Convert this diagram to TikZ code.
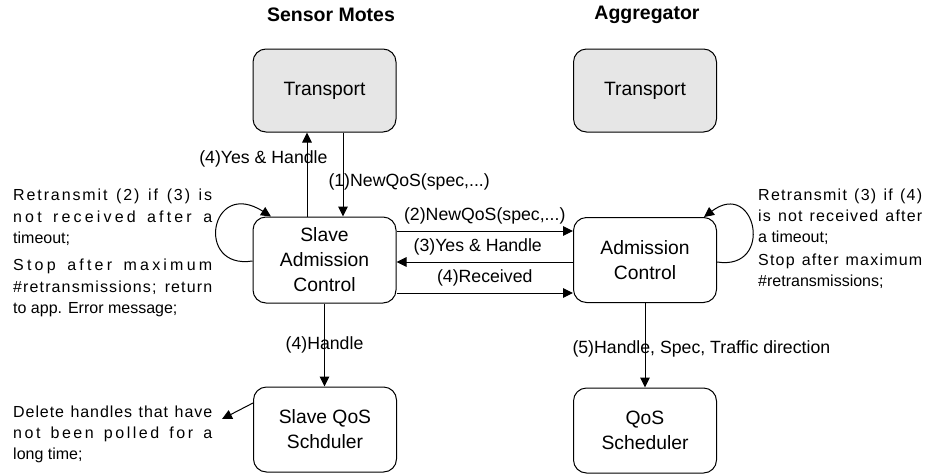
\documentclass[tikz,border=0pt]{standalone}
\usepackage{fontspec}
\setmainfont{Liberation Sans}
\usetikzlibrary{arrows.meta}
\definecolor{boxgrey}{RGB}{230,230,230}
\setlength{\parindent}{0pt}

% justified notes spread their letters as well as their word spaces
\newcount\lsclass
\lsclass=33
\loop
  \XeTeXcharclass\lsclass=7\relax
  \ifnum\lsclass<126 \advance\lsclass by 1 \repeat
\XeTeXinterchartoks 7 7 = {\nobreak\hskip 0pt plus 1pt\relax}
\newcommand{\spreadletters}{\XeTeXinterchartokenstate=1\relax}

\begin{document}
\begin{tikzpicture}[x=1pt,y=1pt,
  box/.style={draw, line width=1pt, rounded corners=13pt, minimum width=143pt,
    minimum height=85pt, inner sep=0pt, align=center,
    font=\fontsize{19.3}{25}\selectfont},
  greybox/.style={box, fill=boxgrey},
  arr/.style={line width=1pt, -{Triangle[length=10pt,width=9.5pt]}},
  lbl/.style={font=\fontsize{17.7}{21}\selectfont, inner sep=0pt},
  note/.style={font=\fontsize{16}{21.5}\selectfont, execute at begin node=\spreadletters,
    inner sep=0pt, align=justify, anchor=base west},
  heading/.style={font=\fontsize{19.5}{23}\selectfont\bfseries}
]
\useasboundingbox (0,0) rectangle (928,-474);

% column headings
\node[heading] (hsm) at (331,-15) {Sensor Motes};
\node[heading] (hag) at (647,-15) {Aggregator};

% components
\node[greybox, minimum height=83pt] (tl) at (324.5,-90.5) {Transport};
\node[greybox, minimum height=83pt] (tr) at (645,-90.5) {Transport};
\node[box, minimum height=86pt] (sac) at (324.5,-260) {Slave\\Admission\\Control};
\node[box] (ac) at (645,-260) {Admission\\Control};
\node[box] (sqs) at (325,-429.5) {Slave QoS\\Schduler};
\node[box] (qs) at (645,-430.5) {QoS\\Scheduler};

% transport <-> slave admission control
\draw[arr] ([xshift=-17.5pt]sac.north) -- ([xshift=-17.5pt]tl.south)
  node[lbl, pos=0.69, anchor=east, xshift=21pt] {(4)Yes \& Handle};
\draw[arr] ([xshift=18.5pt]tl.south) -- ([xshift=18.5pt]sac.north)
  node[lbl, pos=0.59, anchor=west, xshift=-15pt] {(1)NewQoS(spec,...)};

% slave admission control <-> admission control
\draw[arr] ([yshift=29pt]sac.east) -- ([yshift=29pt]ac.west)
  node[lbl, midway, above=6pt] {(2)NewQoS(spec,...)};
\draw[arr] ([yshift=-2pt]ac.west) -- ([yshift=-2pt]sac.east)
  node[lbl, midway, above=6pt, xshift=-7pt] {(3)Yes \& Handle};
\draw[arr] ([yshift=-33pt]sac.east) -- ([yshift=-33pt]ac.west)
  node[lbl, midway, above=6pt] {(4)Received};

% down to the schedulers
\draw[arr] (sac.south) -- (sac.south |- sqs.north)
  node[lbl, midway] {(4)Handle};
\draw[arr] (ac.south) -- (qs.north)
  node[lbl, midway, anchor=west, xshift=-73pt, yshift=-4pt] {(5)Handle, Spec, Traffic direction};

% retransmission loops
\draw[arr] ([yshift=-1pt]sac.west) .. controls +(-58,-9) and +(-61,39) .. ([xshift=-53.5pt]sac.north);
\draw[arr] ([yshift=-2pt]ac.east) .. controls +(58,-9) and +(52,39) .. ([xshift=59pt]ac.north);

% handle clean-up
\coordinate (deltip) at (222,-419);
\draw[arr] ([yshift=26.5pt]sqs.west) -- (deltip);

% notes
\node[note, text width=199pt] (lnote) at (13,-200.5)
  {Retransmit (2) if (3) is\linebreak not received after a\linebreak timeout;\par\vspace{5.5pt}%
   Stop after maximum\linebreak \#retransmissions; return\linebreak to app. Error message;};
\node[note, text width=164pt, font=\fontsize{16}{21}\selectfont] (rnote) at (758,-200.5)
  {Retransmit (3) if (4)\linebreak is not received after\linebreak a timeout;\par\vspace{1.5pt}%
   Stop after maximum\linebreak \#retransmissions;};
\node[note, text width=199pt, font=\fontsize{16}{21}\selectfont] (dnote) at (13,-417)
  {Delete handles that have\linebreak not been polled for a\linebreak long time;};
\end{tikzpicture}
\end{document}
